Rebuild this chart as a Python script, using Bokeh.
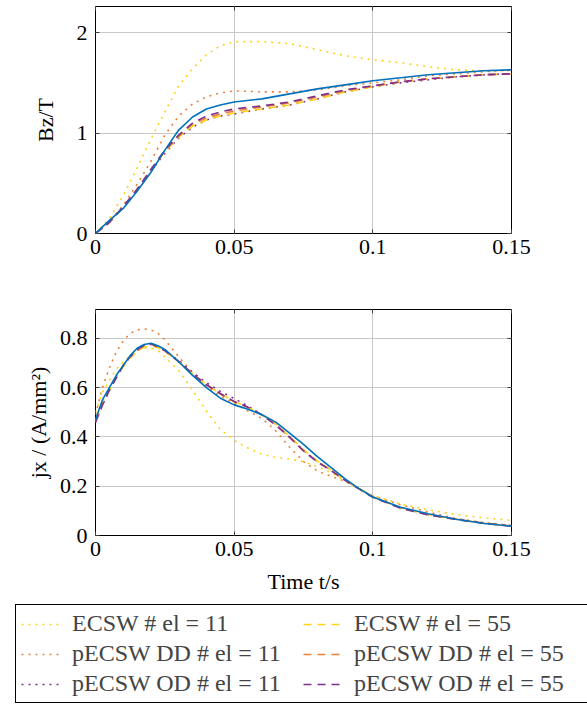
from bokeh.plotting import figure
from bokeh.layouts import column
from bokeh.models import (Range1d, FixedTicker, LinearAxis, Legend, LegendItem,
                          CustomLabelingPolicy)
from bokeh.embed import file_html
from bokeh.resources import INLINE

FONT = "Liberation Serif"

# ---------------- data ----------------
x_ticks = [0, 0.05, 0.1, 0.15]
x_tick_labels = ["0", "0.05", "0.1", "0.15"]
b_ticks = [0, 1, 2]
b_tick_labels = ["0", "1", "2"]
j_ticks = [0, 0.2, 0.4, 0.6, 0.8]
j_tick_labels = ["0", "0.2", "0.4", "0.6", "0.8"]

# top plot: B_z / T
t_b = [0, 0.005, 0.01, 0.015, 0.02, 0.025, 0.03, 0.035, 0.04, 0.045, 0.05,
       0.06, 0.07, 0.08, 0.09, 0.1, 0.11, 0.12, 0.13, 0.14, 0.15]
b_ref = [0, 0.13, 0.25, 0.42, 0.61, 0.83, 1.03, 1.16, 1.24, 1.28, 1.31,
         1.34, 1.39, 1.44, 1.48, 1.52, 1.55, 1.58, 1.60, 1.62, 1.63]
b_ecsw11 = [0, 0.15, 0.38, 0.65, 0.94, 1.21, 1.47, 1.64, 1.78, 1.87, 1.91,
            1.91, 1.89, 1.83, 1.77, 1.73, 1.70, 1.66, 1.63, 1.62, 1.62]
b_dd11 = [0, 0.12, 0.28, 0.49, 0.72, 0.98, 1.17, 1.29, 1.36, 1.40, 1.42,
          1.41, 1.41, 1.43, 1.47, 1.50, 1.53, 1.57, 1.59, 1.61, 1.63]
b_od11 = [0, 0.11, 0.26, 0.43, 0.62, 0.80, 0.95, 1.06, 1.13, 1.17, 1.19,
          1.24, 1.28, 1.34, 1.41, 1.46, 1.50, 1.53, 1.56, 1.58, 1.59]
b_ecsw55 = [0, 0.11, 0.26, 0.43, 0.63, 0.81, 0.96, 1.07, 1.13, 1.17, 1.20,
            1.24, 1.28, 1.34, 1.41, 1.46, 1.51, 1.54, 1.56, 1.58, 1.59]
b_dd55 = [0, 0.11, 0.26, 0.44, 0.63, 0.82, 0.97, 1.09, 1.15, 1.19, 1.22,
          1.26, 1.30, 1.36, 1.42, 1.47, 1.51, 1.54, 1.56, 1.58, 1.59]
b_od55 = [0, 0.11, 0.27, 0.44, 0.64, 0.83, 0.98, 1.10, 1.17, 1.21, 1.24,
          1.27, 1.31, 1.37, 1.43, 1.47, 1.51, 1.54, 1.56, 1.58, 1.59]

# bottom plot: j_x / (A/mm^2)
t_j = [0, 0.0025, 0.005, 0.0075, 0.01, 0.0125, 0.015, 0.0175, 0.02, 0.0225,
       0.025, 0.03, 0.035, 0.04, 0.045, 0.05, 0.055, 0.06, 0.065, 0.07,
       0.075, 0.08, 0.085, 0.09, 0.095, 0.1, 0.11, 0.12, 0.13, 0.14, 0.15]
j_ref = [0.47, 0.55, 0.60, 0.65, 0.69, 0.73, 0.76, 0.775, 0.78, 0.77,
         0.755, 0.705, 0.65, 0.60, 0.557, 0.53, 0.512, 0.49, 0.46, 0.415,
         0.37, 0.32, 0.275, 0.23, 0.19, 0.156, 0.115, 0.088, 0.066, 0.049, 0.038]
j_ecsw11 = [0.50, 0.58, 0.63, 0.675, 0.705, 0.73, 0.75, 0.76, 0.76, 0.75,
            0.725, 0.67, 0.59, 0.505, 0.43, 0.386, 0.355, 0.33, 0.317, 0.31,
            0.30, 0.28, 0.255, 0.222, 0.19, 0.163, 0.128, 0.104, 0.085, 0.072, 0.061]
j_dd11 = [0.49, 0.60, 0.68, 0.745, 0.79, 0.82, 0.834, 0.838, 0.834, 0.82,
          0.795, 0.725, 0.66, 0.605, 0.565, 0.536, 0.505, 0.475, 0.425, 0.358,
          0.30, 0.262, 0.24, 0.22, 0.19, 0.16, 0.125, 0.095, 0.069, 0.053, 0.041]
j_od11 = [0.46, 0.53, 0.59, 0.64, 0.69, 0.725, 0.752, 0.77, 0.776, 0.765,
          0.75, 0.71, 0.662, 0.62, 0.585, 0.556, 0.525, 0.49, 0.45, 0.40,
          0.345, 0.30, 0.265, 0.225, 0.19, 0.156, 0.112, 0.084, 0.066, 0.05, 0.038]
j_ecsw55 = [0.47, 0.54, 0.59, 0.64, 0.685, 0.72, 0.748, 0.765, 0.77, 0.762,
            0.748, 0.705, 0.657, 0.612, 0.576, 0.545, 0.52, 0.49, 0.452, 0.402,
            0.348, 0.302, 0.265, 0.226, 0.19, 0.157, 0.113, 0.085, 0.066, 0.05, 0.038]
j_dd55 = [0.46, 0.53, 0.59, 0.64, 0.69, 0.725, 0.752, 0.77, 0.776, 0.765,
          0.75, 0.705, 0.655, 0.61, 0.574, 0.542, 0.52, 0.49, 0.45, 0.40,
          0.345, 0.30, 0.265, 0.225, 0.19, 0.156, 0.112, 0.084, 0.066, 0.05, 0.038]
j_od55 = [0.46, 0.53, 0.59, 0.64, 0.69, 0.726, 0.754, 0.772, 0.778, 0.766,
          0.75, 0.706, 0.656, 0.612, 0.576, 0.544, 0.52, 0.49, 0.448, 0.398,
          0.343, 0.298, 0.263, 0.224, 0.189, 0.155, 0.111, 0.083, 0.065, 0.05, 0.038]

labels = ["ECSW # el = 11", "pECSW DD # el = 11", "pECSW OD # el = 11",
          "ECSW # el = 55", "pECSW DD # el = 55", "pECSW OD # el = 55"]
colors = ["#FFD21A", "#E8803C", "#7E2F8E", "#FFD21A", "#E8803C", "#7E2F8E"]
dashes = ["2 5", "2 5", "2 5", "8 6", "8 6", "8 6"]
ref_color = "#0072BD"

b_series = [b_ecsw11, b_dd11, b_od11, b_ecsw55, b_dd55, b_od55]
j_series = [j_ecsw11, j_dd11, j_od11, j_ecsw55, j_dd55, j_od55]

GRID = "#c8c8c8"
TICK = "#404040"
FIG_W = 587


def make_fig(height, y_end, yticks, ylabels, ylabel, ylabel_standoff,
             min_top, min_bottom, xlabel=None):
    p = figure(width=FIG_W, height=height, x_range=Range1d(0, 0.15),
               y_range=Range1d(0, y_end), output_backend="svg",
               toolbar_location=None, min_border_left=95,
               min_border_right=FIG_W - 95 - 416,
               min_border_top=min_top, min_border_bottom=min_bottom)
    p.background_fill_color = "white"
    p.border_fill_color = "white"
    p.outline_line_color = "black"
    p.outline_line_width = 1
    p.outline_line_alpha = 1
    for ax, ticks, labs in ((p.xaxis[0], x_ticks, x_tick_labels),
                            (p.yaxis[0], yticks, ylabels)):
        ax.ticker = FixedTicker(ticks=ticks)
        ax.major_label_overrides = dict(zip(ticks, labs))
        ax.major_tick_in = 4
        ax.major_tick_out = 0
        ax.major_tick_line_color = TICK
        ax.minor_tick_line_color = None
        ax.axis_line_color = None
        ax.major_label_text_font = FONT
        ax.major_label_text_font_size = "22px"
        ax.major_label_text_color = "black"
        ax.axis_label_text_font = FONT
        ax.axis_label_text_font_size = "22px"
        ax.axis_label_text_font_style = "normal"
        ax.axis_label_text_color = "black"
    p.yaxis[0].major_label_standoff = 8
    p.xaxis[0].major_label_standoff = 6
    p.yaxis[0].axis_label = ylabel
    p.yaxis[0].axis_label_standoff = ylabel_standoff
    if xlabel:
        p.xaxis[0].axis_label = xlabel
        p.xaxis[0].axis_label_standoff = 10
    # mirrored ticks on the right and top (no labels drawn)
    no_labels = CustomLabelingPolicy(code="""
        const all = [...indices]
        for (const i of all) indices.unset(i)
        return indices
    """)
    for side, ticks in (("right", yticks), ("above", x_ticks)):
        ax = LinearAxis(ticker=FixedTicker(ticks=ticks),
                        major_label_text_font_size="0px",
                        major_label_policy=no_labels,
                        axis_line_color=None, major_tick_in=4,
                        major_tick_out=0, major_tick_line_color=TICK,
                        minor_tick_line_color=None, major_label_standoff=0)
        p.add_layout(ax, side)
    p.xgrid.ticker = FixedTicker(ticks=x_ticks)
    p.ygrid.ticker = FixedTicker(ticks=yticks)
    p.grid.grid_line_color = GRID
    p.grid.grid_line_width = 1
    return p


top = make_fig(270, 2.26, b_ticks, b_tick_labels, "Bz/T", 16, 6, 37)
bot = make_fig(327, 0.917, j_ticks, j_tick_labels, "jx / (A/mm²)", 6, 39, 62,
               xlabel="Time t/s")

for p, t, series, ref in ((top, t_b, b_series, b_ref), (bot, t_j, j_series, j_ref)):
    for ys, c, d in zip(series, colors, dashes):
        p.line(t, ys, line_color=c, line_width=1.6, line_dash=d)
    p.line(t, ref, line_color=ref_color, line_width=1.6)

# legend figure (dummy renderers lie outside the visible range)
lg = figure(width=FIG_W, height=110, x_range=Range1d(1, 2), y_range=Range1d(1, 2),
            output_backend="svg", toolbar_location=None, min_border=0,
            x_axis_type=None, y_axis_type=None, frame_align=False)
lg.outline_line_color = None
lg.grid.visible = False
items = []
for ys, c, d, lab in zip(b_series, colors, dashes, labels):
    r = lg.line(t_b, ys, line_color=c, line_width=1.6, line_dash=d)
    items.append(LegendItem(label=lab, renderers=[r]))
legend = Legend(items=items, location=(15, 4), nrows=3, orientation="vertical",
                label_text_font=FONT, label_text_font_size="24px",
                glyph_width=42, glyph_height=20, label_standoff=9,
                label_width=228, spacing=3, padding=5, margin=0,
                border_line_color="black", border_line_width=1,
                border_line_alpha=1, background_fill_color="white",
                background_fill_alpha=1)
lg.add_layout(legend, "center")

layout = column(top, bot, lg, spacing=0)
open("out.html", "w").write(file_html(layout, INLINE))
